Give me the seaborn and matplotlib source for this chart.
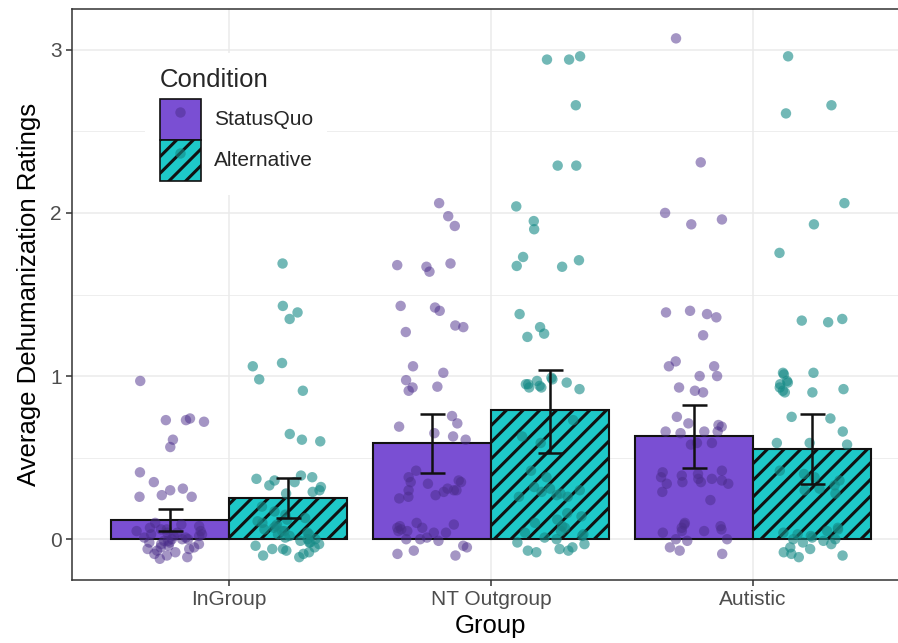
import numpy as np
import pandas as pd
import matplotlib
matplotlib.use("Agg")
import matplotlib.pyplot as plt
import seaborn as sns
from matplotlib.patches import Patch
from matplotlib.lines import Line2D

# ---------------- data ----------------
groups = ["InGroup", "NT Outgroup", "Autistic"]
conditions = ["StatusQuo", "Alternative"]

mean_statusquo = [0.117, 0.59, 0.63]
mean_alternative = [0.25, 0.79, 0.555]
ci_low_statusquo = [0.05, 0.405, 0.435]
ci_high_statusquo = [0.185, 0.77, 0.82]
ci_low_alternative = [0.13, 0.53, 0.34]
ci_high_alternative = [0.375, 1.04, 0.77]

pts_ingroup_sq = [0.97, 0.74, 0.73, 0.73, 0.72, 0.61, 0.565, 0.41, 0.35, 0.30, 0.31,
                  0.26, 0.27, 0.26,
                  0.10, 0.08, 0.07, 0.06, 0.05, 0.05, 0.04, 0.03, 0.03, 0.02, 0.02,
                  0.01, 0.0, 0.0, 0.0, -0.01, -0.02, -0.02, -0.03, -0.04, -0.05,
                  -0.05, -0.06, -0.07, -0.08, -0.09, -0.10, -0.12, 0.09, 0.06, 0.04,
                  0.01, -0.01, -0.03, -0.06, -0.11]
pts_ingroup_alt = [1.69, 1.43, 1.39, 1.35, 1.08, 1.06, 0.98, 0.91, 0.645, 0.61, 0.60,
                   0.39, 0.37, 0.36, 0.35, 0.33, 0.32, 0.30, 0.29, 0.28, 0.38,
                   0.20, 0.17, 0.15, 0.13, 0.12, 0.10, 0.09, 0.08, 0.07, 0.06, 0.05,
                   0.05, 0.04, 0.03, 0.02, 0.01, 0.0, 0.0, -0.01, -0.02, -0.03, -0.04,
                   -0.05, -0.06, -0.07, -0.08, -0.09, -0.10, -0.11, 0.11, 0.03, -0.02,
                   -0.06]
pts_nt_sq = [2.06, 1.98, 1.92, 1.69, 1.68, 1.67, 1.64, 1.43, 1.42, 1.40, 1.31, 1.30,
             1.27, 1.06, 1.02, 0.975, 0.93, 0.935, 0.91, 0.755, 0.71, 0.69, 0.65,
             0.63, 0.61, 0.42, 0.38, 0.36, 0.35, 0.35, 0.34, 0.31, 0.30, 0.30, 0.29,
             0.30, 0.27, 0.26, 0.25, 0.10, 0.09, 0.08, 0.07, 0.07, 0.06, 0.05, 0.05,
             0.04, 0.04, 0.01, 0.0, 0.0, -0.01, -0.04, -0.05, -0.07, -0.09, -0.10]
pts_nt_alt = [2.96, 2.94, 2.94, 2.66, 2.29, 2.29, 2.04, 1.95, 1.90, 1.73, 1.71, 1.675,
              1.67, 1.38, 1.30, 1.26, 1.24, 0.99, 0.98, 0.97, 0.96, 0.95, 0.95, 0.94,
              0.93, 0.93, 0.92, 0.73, 0.63, 0.59, 0.42, 0.38, 0.32, 0.31, 0.30, 0.29,
              0.28, 0.27, 0.26, 0.26, 0.16, 0.14, 0.12, 0.10, 0.08, 0.07, 0.05, 0.04,
              0.03, 0.02, 0.01, 0.0, -0.02, -0.03, -0.05, -0.06, -0.07, -0.07, -0.08]
pts_aut_sq = [3.07, 2.31, 2.00, 1.96, 1.93, 1.40, 1.39, 1.38, 1.36, 1.25, 1.09, 1.06,
              1.06, 1.00, 1.00, 0.93, 0.91, 0.90, 0.75, 0.70, 0.71, 0.69, 0.66, 0.66,
              0.66, 0.65, 0.59, 0.59, 0.58, 0.42, 0.41, 0.40, 0.39, 0.38, 0.37, 0.37,
              0.36, 0.35, 0.35, 0.34, 0.34, 0.29, 0.24, 0.10, 0.09, 0.08, 0.07, 0.06,
              0.05, 0.05, 0.04, 0.0, 0.0, -0.01, -0.05, -0.07, -0.09]
pts_aut_alt = [2.96, 2.66, 2.61, 2.06, 1.93, 1.755, 1.35, 1.34, 1.33, 1.02, 1.02, 1.01,
               0.97, 0.96, 0.95, 0.93, 0.92, 0.91, 0.90, 0.90, 0.75, 0.74, 0.66, 0.59,
               0.59, 0.58, 0.42, 0.40, 0.38, 0.36, 0.33, 0.31, 0.30, 0.28, 0.07, 0.06,
               0.05, 0.04, 0.03, 0.02, 0.01, 0.0, 0.0, -0.01, -0.02, -0.03, -0.05,
               -0.06, -0.08, -0.09, -0.10, -0.11]

# ---------------- tables ----------------
means_df = pd.DataFrame({
    "Group": groups * 2,
    "Condition": ["StatusQuo"] * 3 + ["Alternative"] * 3,
    "Mean": mean_statusquo + mean_alternative,
})
point_sets = [
    ("InGroup", "StatusQuo", pts_ingroup_sq), ("InGroup", "Alternative", pts_ingroup_alt),
    ("NT Outgroup", "StatusQuo", pts_nt_sq), ("NT Outgroup", "Alternative", pts_nt_alt),
    ("Autistic", "StatusQuo", pts_aut_sq), ("Autistic", "Alternative", pts_aut_alt),
]
pts_df = pd.DataFrame(
    [(g, c, v) for g, c, vals in point_sets for v in vals],
    columns=["Group", "Condition", "Rating"],
)

# ---------------- style ----------------
sns.set_style("white")
plt.rcParams["font.family"] = ["Liberation Sans", "DejaVu Sans"]
plt.rcParams["hatch.linewidth"] = 2.2
plt.rcParams["hatch.color"] = "black"

bar_colors = {"StatusQuo": "#7A4FD3", "Alternative": "#1EC8C8"}
pt_colors = {"StatusQuo": "#4A2C8A", "Alternative": "#158A86"}
pt_alpha = {"StatusQuo": 0.5, "Alternative": 0.6}
edge = "#111111"

fig = plt.figure(figsize=(8.98, 6.43), dpi=100)
ax = fig.add_axes([72 / 898, 63 / 643, 838 / 898, 571 / 643])

sns.barplot(data=means_df, x="Group", y="Mean", hue="Condition", order=groups,
            hue_order=conditions, palette=bar_colors, errorbar=None, width=0.9,
            saturation=1, edgecolor=edge, linewidth=1.5, legend=False, ax=ax, zorder=2)
for bar in ax.containers[1]:
    bar.set_hatch("//")

np.random.seed(7)
sns.stripplot(data=pts_df, x="Group", y="Rating", hue="Condition", order=groups,
              hue_order=conditions, palette=pt_colors, dodge=True, jitter=0.27,
              size=7.5, alpha=0.6, linewidth=0, legend=False, ax=ax, zorder=3)
for coll in ax.collections:
    offs = coll.get_offsets()
    if len(offs):
        m = offs[:, 0].mean()
        s = np.sign(m - np.round(m))
        offs[:, 0] = offs[:, 0] + s * 0.025
        coll.set_offsets(offs)
        coll.set_alpha(pt_alpha["StatusQuo"] if s < 0 else pt_alpha["Alternative"])
    coll.set_zorder(3)

lows = [ci_low_statusquo, ci_low_alternative]
highs = [ci_high_statusquo, ci_high_alternative]
means = [mean_statusquo, mean_alternative]
for k, cont in enumerate(ax.containers[:2]):
    xs = [b.get_x() + b.get_width() / 2 for b in cont]
    m = np.array(means[k])
    yerr = [m - np.array(lows[k]), np.array(highs[k]) - m]
    ax.errorbar(xs, m, yerr=yerr, fmt="none", ecolor=edge, elinewidth=1.8,
                capsize=9, capthick=1.8, zorder=4)

# ---------------- axes ----------------
ax.set_xlim(-0.6, 2.6)
ax.set_ylim(-0.25, 3.25)
ax.set_yticks([0, 1, 2, 3])
ax.set_yticks([0.5, 1.5, 2.5], minor=True)
ax.set_axisbelow(True)
ax.grid(True, which="major", color="#EBEBEB", linewidth=1.1)
ax.grid(True, which="minor", axis="y", color="#EBEBEB", linewidth=0.6)
for sp in ax.spines.values():
    sp.set_visible(True)
    sp.set_color("#333333")
    sp.set_linewidth(1.1)
ax.tick_params(axis="both", which="major", length=4, width=1.1, color="#333333",
               labelcolor="#4D4D4D", labelsize=15, bottom=True, left=True)
ax.tick_params(axis="y", which="minor", length=0)
ax.set_xlabel("Group", fontsize=18.5, color="black", labelpad=3)
ax.set_ylabel("Average Dehumanization Ratings", fontsize=18.5, color="black", labelpad=6)

handles = [
    (Patch(facecolor=bar_colors["StatusQuo"], edgecolor=edge, linewidth=1.2),
     Line2D([], [], marker="o", linestyle="", color=pt_colors["StatusQuo"],
            alpha=pt_alpha["StatusQuo"], markersize=7.5, markeredgewidth=0)),
    (Patch(facecolor=bar_colors["Alternative"], edgecolor=edge, linewidth=1.2, hatch="//"),
     Line2D([], [], marker="o", linestyle="", color=pt_colors["Alternative"],
            alpha=pt_alpha["Alternative"], markersize=7.5, markeredgewidth=0)),
]
leg = ax.legend(handles, conditions, title="Condition", loc="upper left",
                bbox_to_anchor=((145 - 72) / 838, (580 - 53) / 571), borderaxespad=0,
                fontsize=15, title_fontsize=18.5, handlelength=2.0, handleheight=2.65,
                handletextpad=0.6, labelspacing=0, borderpad=0.7, frameon=True,
                facecolor="white", edgecolor="none", framealpha=1, fancybox=False,
                alignment="left")
leg._legend_box.sep = 5
leg.set_zorder(5)

fig.savefig("out.png", dpi=100)
